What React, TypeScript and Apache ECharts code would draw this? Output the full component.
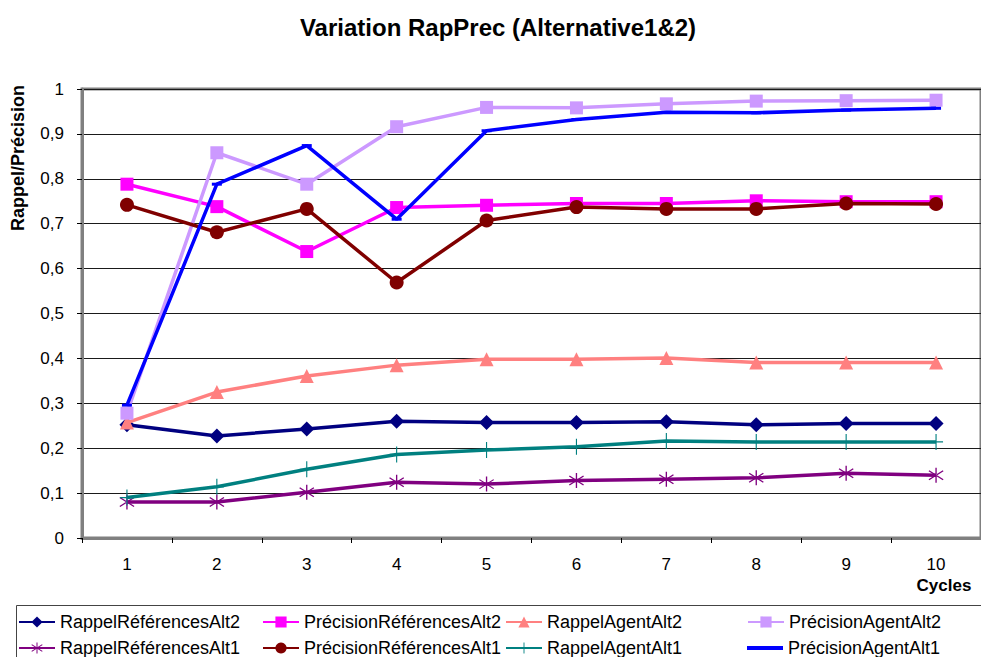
import React, { useEffect, useRef } from "react";
import * as echarts from "echarts";

const cycles = ["1", "2", "3", "4", "5", "6", "7", "8", "9", "10"];
const yTicks = [0, 0.1, 0.2, 0.3, 0.4, 0.5, 0.6, 0.7, 0.8, 0.9, 1];

const rappelRefAlt2 = [0.252, 0.227, 0.243, 0.26, 0.257, 0.257, 0.259, 0.252, 0.255, 0.255];
const precRefAlt2 = [0.788, 0.738, 0.638, 0.736, 0.741, 0.745, 0.745, 0.751, 0.749, 0.749];
const rappelAgentAlt2 = [0.257, 0.325, 0.361, 0.385, 0.398, 0.398, 0.401, 0.391, 0.391, 0.391];
const precAgentAlt2 = [0.278, 0.858, 0.788, 0.916, 0.959, 0.958, 0.967, 0.973, 0.974, 0.975];
const rappelRefAlt1 = [0.08, 0.08, 0.102, 0.124, 0.12, 0.128, 0.131, 0.134, 0.144, 0.14];
const precRefAlt1 = [0.742, 0.681, 0.733, 0.569, 0.707, 0.737, 0.733, 0.733, 0.745, 0.744];
const rappelAgentAlt1 = [0.09, 0.114, 0.153, 0.186, 0.196, 0.203, 0.216, 0.214, 0.214, 0.214];
const precAgentAlt1 = [0.296, 0.788, 0.874, 0.71, 0.907, 0.932, 0.948, 0.947, 0.953, 0.957];

const seriesNames = [
  "RappelRéférencesAlt2",
  "PrécisionRéférencesAlt2",
  "RappelAgentAlt2",
  "PrécisionAgentAlt2",
  "RappelRéférencesAlt1",
  "PrécisionRéférencesAlt1",
  "RappelAgentAlt1",
  "PrécisionAgentAlt1",
];

const FONT = "'Liberation Sans', Arial, sans-serif";

const ASTERISK =
  "path://M9.2,0 H10.8 V20 H9.2 Z M1.96,3.35 L18.96,15.35 L18.04,16.65 L1.04,4.65 Z M1.96,16.65 L18.96,4.65 L18.04,3.35 L1.04,15.35 Z";
const PLUS = "path://M9.2,0 H10.8 V20 H9.2 Z M0,9.2 H20 V10.8 H0 Z";

export default function App() {
  const ref = useRef<HTMLDivElement>(null);

  useEffect(() => {
    if (!ref.current) return;
    const chart = echarts.init(ref.current, null, { renderer: "svg" });

    const styles = [
      { data: rappelRefAlt2, color: "#000080", symbol: "diamond", size: 15, legendIcon: undefined },
      { data: precRefAlt2, color: "#FF00FF", symbol: "rect", size: 13, legendIcon: undefined },
      { data: rappelAgentAlt2, color: "#FF8080", symbol: "triangle", size: 14, legendIcon: undefined },
      { data: precAgentAlt2, color: "#CC99FF", symbol: "rect", size: 13, legendIcon: undefined },
      { data: rappelRefAlt1, color: "#800080", symbol: ASTERISK, size: 15, legendIcon: undefined },
      { data: precRefAlt1, color: "#800000", symbol: "circle", size: 14, legendIcon: undefined },
      { data: rappelAgentAlt1, color: "#008080", symbol: PLUS, size: [14, 16], legendIcon: undefined },
      { data: precAgentAlt1, color: "#0000FF", symbol: "rect", size: [10, 3], legendIcon: "path://M0,8 H36 V12 H0 Z" },
    ];

    const series = styles.map((s, i) => ({
      name: seriesNames[i],
      type: "line",
      data: s.data,
      symbol: s.symbol,
      symbolSize: s.size,
      showSymbol: true,
      lineStyle: { color: s.color, width: 3.5 },
      itemStyle: { color: s.color },
      z: 2 + i,
    }));

    const legendLefts = [18, 262, 505, 747];
    const legendTops = [613, 639];
    const legends = seriesNames.map((n, i) => {
      const icon = styles[i].legendIcon;
      return {
        show: true,
        data: [icon ? { name: n, icon } : n],
        left: legendLefts[i % 4],
        top: legendTops[Math.floor(i / 4)],
        padding: 0,
        itemWidth: 36,
        itemHeight: 14,
        selectedMode: false,
        textStyle: { fontFamily: FONT, fontSize: 18, color: "#000" },
      };
    });

    chart.setOption({
      animation: false,
      backgroundColor: "#fff",
      grid: {
        left: 82,
        top: 89,
        right: -9,
        bottom: 119,
        show: true,
        borderColor: "#808080",
        borderWidth: 3,
        backgroundColor: "#fff",
      },
      legend: legends,
      xAxis: {
        type: "category",
        data: cycles,
        boundaryGap: true,
        axisLine: { show: true, lineStyle: { color: "#808080", width: 3 } },
        axisTick: { show: true, length: 5, interval: 0, lineStyle: { color: "#000", width: 1 } },
        axisLabel: { fontFamily: FONT, fontSize: 17, color: "#000", margin: 18 },
        splitLine: { show: false },
      },
      yAxis: {
        type: "value",
        min: yTicks[0],
        max: yTicks[yTicks.length - 1],
        interval: 0.1,
        axisLine: { show: true, lineStyle: { color: "#808080", width: 3 } },
        axisTick: { show: true, length: 5, lineStyle: { color: "#000", width: 1 } },
        axisLabel: {
          fontFamily: FONT,
          fontSize: 17,
          color: "#000",
          margin: 18,
          formatter: (v: number) => {
            const r = Math.round(v * 10) / 10;
            return r === 0 || r === 1 ? String(r) : r.toFixed(1).replace(".", ",");
          },
        },
        splitLine: { show: true, lineStyle: { color: "#1a1a1a", width: 1 } },
      },
      graphic: [
        {
          type: "text",
          x: 498,
          y: 27,
          style: {
            text: "Variation RapPrec (Alternative1&2)",
            fontFamily: FONT,
            fontSize: 24,
            fontWeight: "bold",
            fill: "#000",
            textAlign: "center",
            textVerticalAlign: "middle",
          },
        },
        {
          type: "text",
          x: 18,
          y: 158,
          rotation: Math.PI / 2,
          style: {
            text: "Rappel/Précision",
            fontFamily: FONT,
            fontSize: 18,
            fontWeight: "bold",
            fill: "#000",
            textAlign: "center",
            textVerticalAlign: "middle",
          },
        },
        {
          type: "text",
          x: 944,
          y: 585,
          style: {
            text: "Cycles",
            fontFamily: FONT,
            fontSize: 17,
            fontWeight: "bold",
            fill: "#000",
            textAlign: "center",
            textVerticalAlign: "middle",
          },
        },
        {
          type: "rect",
          shape: { x: 16.5, y: 605.5, width: 1000, height: 100 },
          style: { fill: "none", stroke: "#444", lineWidth: 1 },
          z: -1,
        },
      ],
      series,
    });

    return () => chart.dispose();
  }, []);

  return (
    <div
      ref={ref}
      style={{ position: "fixed", left: 0, top: 0, width: 981, height: 657 }}
    />
  );
}
